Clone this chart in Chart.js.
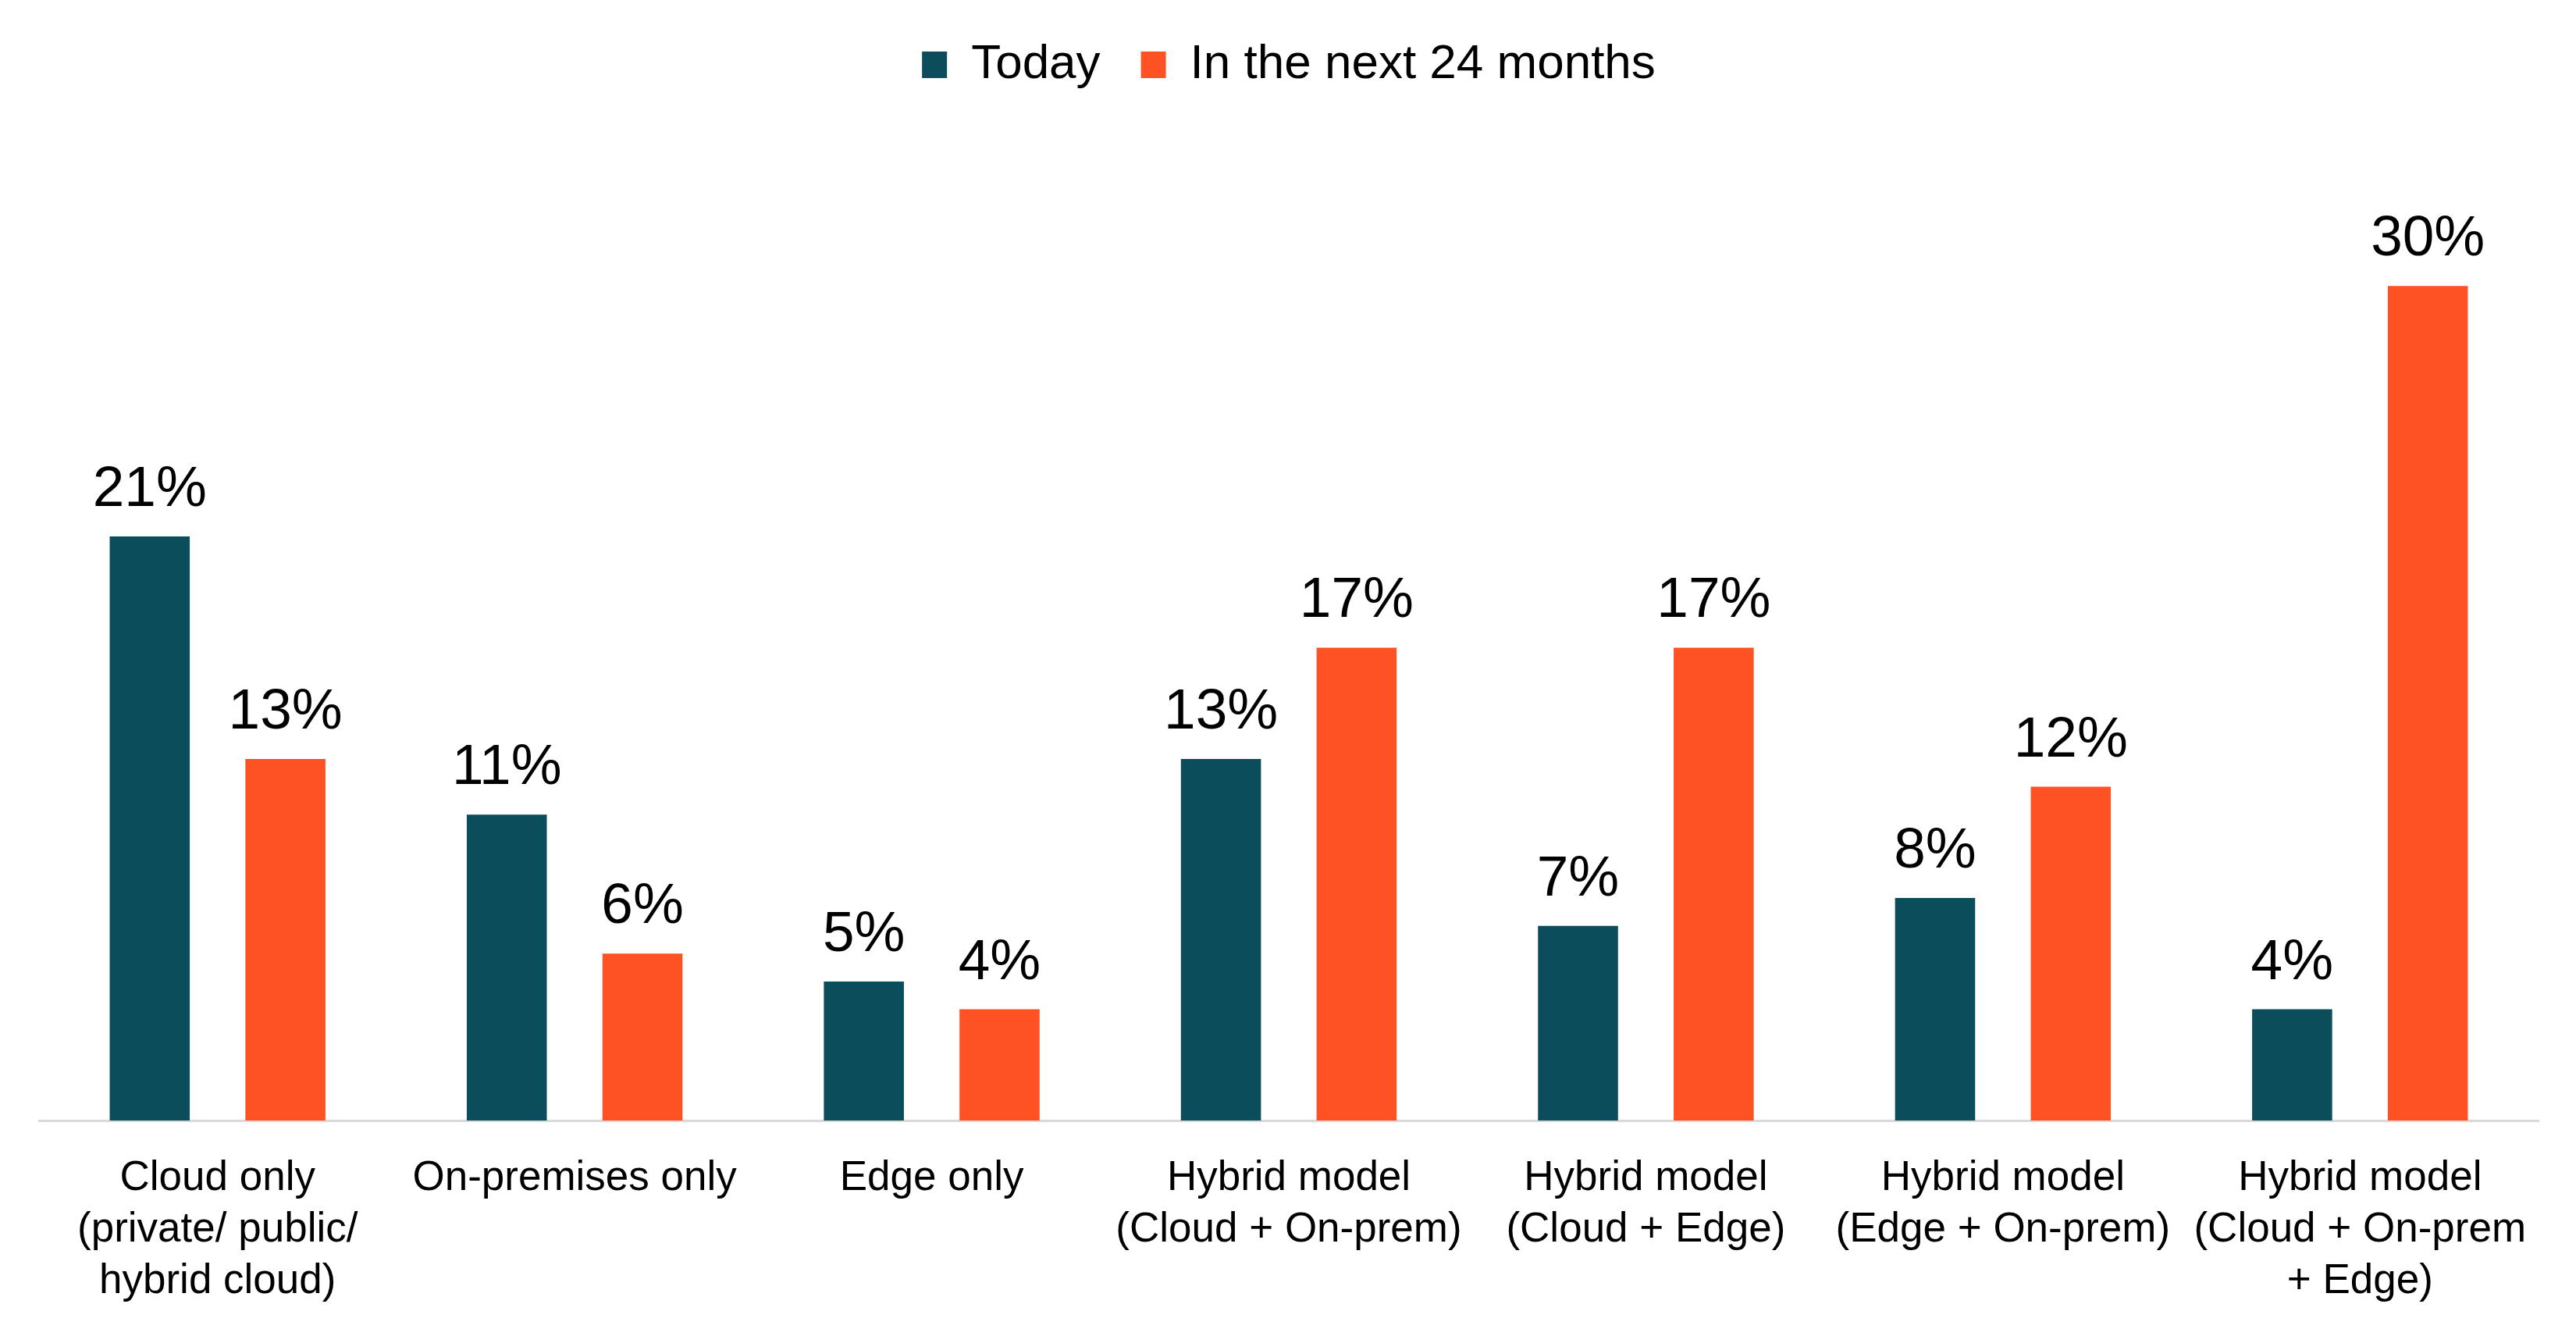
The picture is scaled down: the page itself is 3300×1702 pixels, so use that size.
<!DOCTYPE html>
<html>
<head>
<meta charset="utf-8">
<script src="https://cdn.jsdelivr.net/npm/chart.js@4/dist/chart.umd.min.js"></script>
<style>
  html, body { margin: 0; padding: 0; background: #ffffff; }
  #wrap { width: 3300px; height: 1702px; }
</style>
</head>
<body>
<div id="wrap"><canvas id="c" width="3300" height="1702"></canvas></div>
<script>
const categories = [
  ["Cloud only", "(private/ public/", "hybrid cloud)"],
  "On-premises only",
  "Edge only",
  ["Hybrid model", "(Cloud + On-prem)"],
  ["Hybrid model", "(Cloud + Edge)"],
  ["Hybrid model", "(Edge + On-prem)"],
  ["Hybrid model", "(Cloud + On-prem", "+ Edge)"]
];
const seriesNames = ["Today", "In the next 24 months"];
const todayValues = [21, 11, 5, 13, 7, 8, 4];
const next24Values = [13, 6, 4, 17, 17, 12, 30];

const FONT = "'Liberation Sans', Arial, Helvetica, sans-serif";

const valueLabels = {
  id: 'valueLabels',
  afterDatasetsDraw(chart) {
    const ctx = chart.ctx;
    ctx.save();
    ctx.font = "73px " + FONT;
    ctx.fillStyle = "#000000";
    ctx.textAlign = "center";
    ctx.textBaseline = "alphabetic";
    chart.data.datasets.forEach((ds, di) => {
      const meta = chart.getDatasetMeta(di);
      meta.data.forEach((bar, i) => {
        ctx.fillText(ds.data[i] + "%", bar.x, bar.y - 39);
      });
    });
    ctx.restore();
  }
};

new Chart(document.getElementById('c'), {
  type: 'bar',
  data: {
    labels: categories,
    datasets: [
      { label: seriesNames[0], data: todayValues, backgroundColor: "#0B4D5A",
        categoryPercentage: 0.76, barPercentage: 0.59 },
      { label: seriesNames[1], data: next24Values, backgroundColor: "#FF5224",
        categoryPercentage: 0.76, barPercentage: 0.59 }
    ]
  },
  options: {
    responsive: false,
    devicePixelRatio: 1,
    animation: false,
    layout: { padding: { left: 50, right: 48, top: 0, bottom: 28 } },
    plugins: {
      legend: {
        position: 'top',
        labels: {
          font: { family: FONT, size: 62 },
          color: "#000000",
          boxWidth: 32,
          boxHeight: 34,
          padding: 52
        }
      },
      tooltip: { enabled: false },
      title: { display: false }
    },
    scales: {
      x: {
        grid: { display: false, drawTicks: false },
        border: { display: true, color: "#D9D9D9", width: 3 },
        ticks: {
          color: "#000000",
          font: { family: FONT, size: 53, lineHeight: 1.245 },
          padding: 41,
          maxRotation: 0,
          autoSkip: false
        },
        afterFit(scale) { scale.height = 239; }
      },
      y: {
        display: false,
        min: 0,
        max: 36.8
      }
    }
  },
  plugins: [valueLabels]
});
</script>
</body>
</html>
